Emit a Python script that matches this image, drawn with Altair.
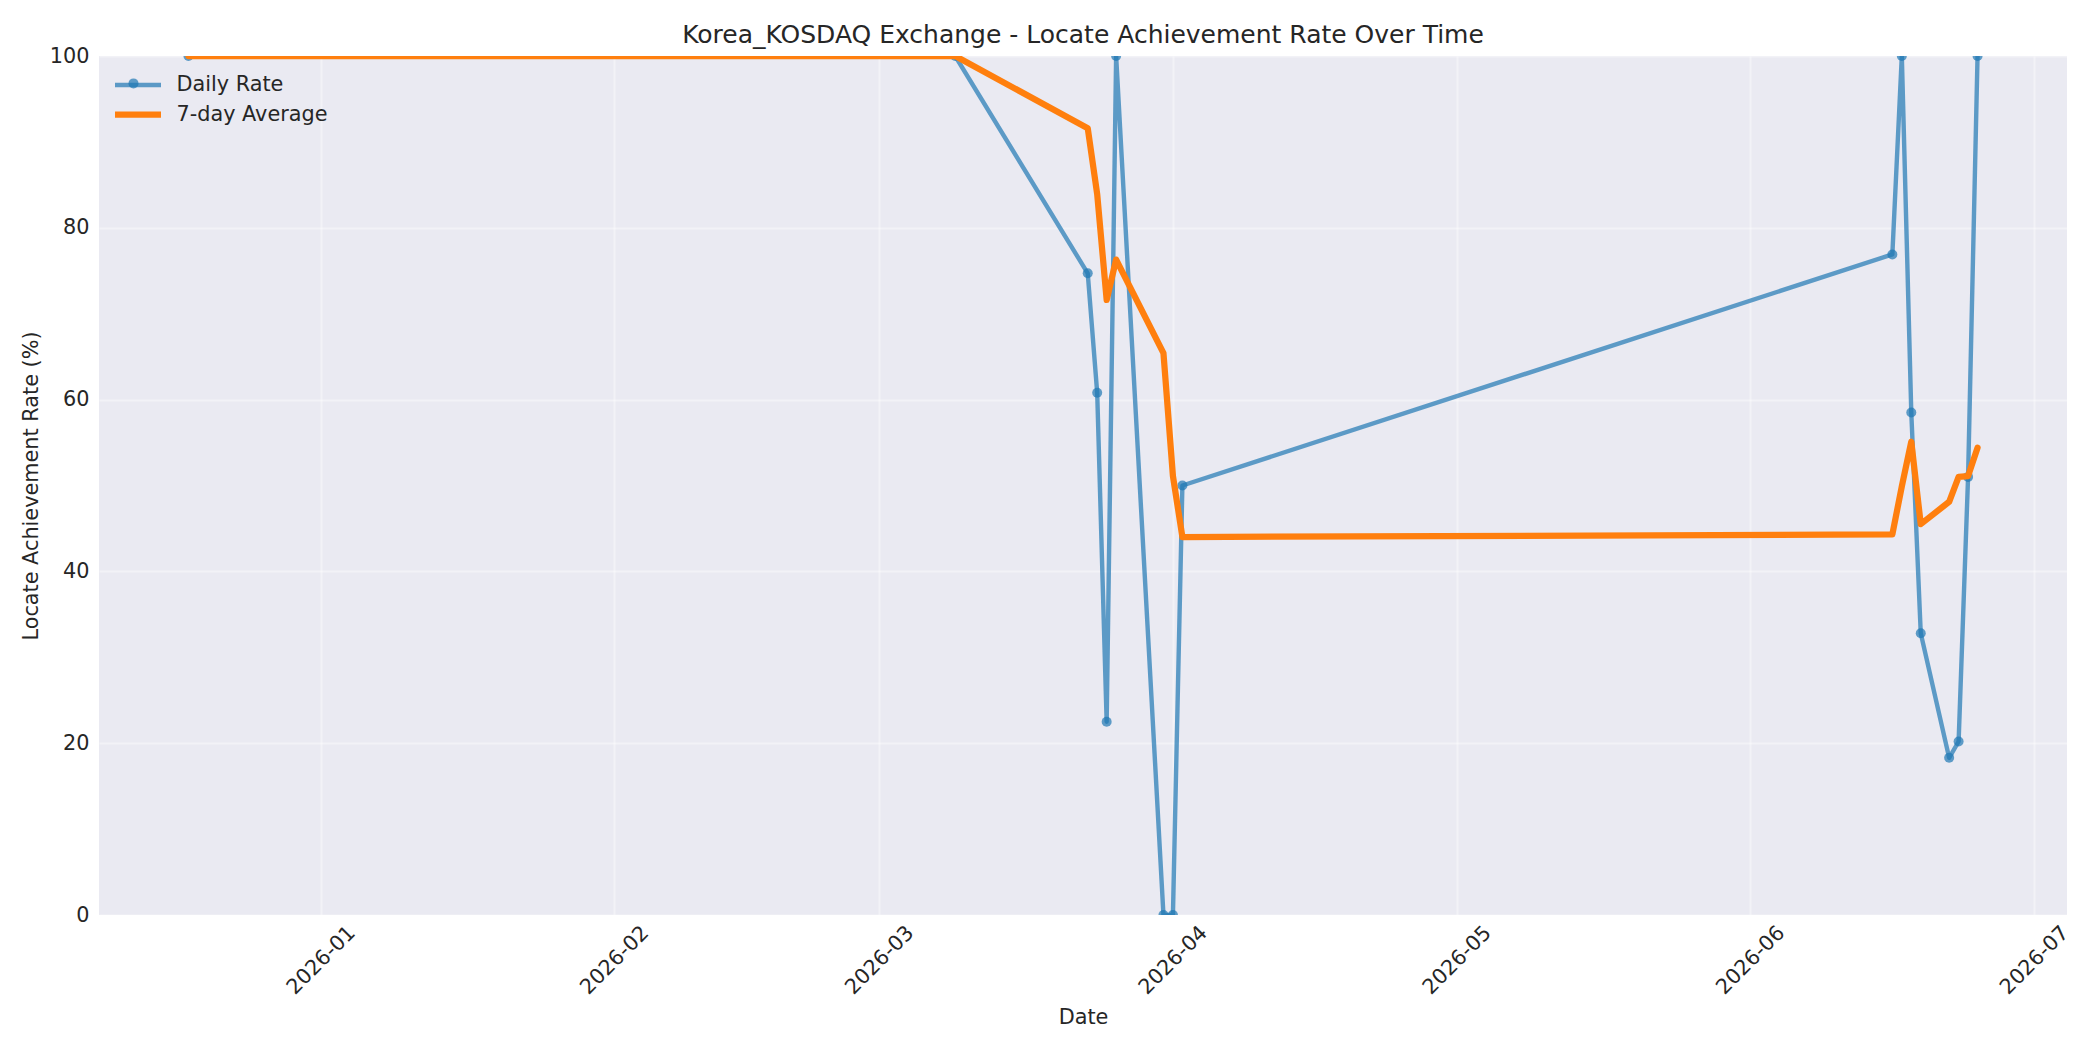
import altair as alt
import pandas as pd

# ---- data ----
dates = ["2025-12-18", "2026-03-09", "2026-03-23", "2026-03-24", "2026-03-25",
         "2026-03-26", "2026-03-31", "2026-04-01", "2026-04-02", "2026-06-16",
         "2026-06-17", "2026-06-18", "2026-06-19", "2026-06-22", "2026-06-23",
         "2026-06-24", "2026-06-25"]
daily_rate = [100, 100, 74.7, 60.8, 22.5, 100, 0, 0, 50.0, 76.9,
              100, 58.5, 32.8, 18.3, 20.2, 51.0, 100]
avg_7day = [100, 100, 91.6, 83.9, 71.6, 76.3, 65.4, 51.1, 44.0, 44.3,
            49.9, 55.1, 45.5, 48.1, 51.0, 51.1, 54.4]

SERIES = ["Daily Rate", "7-day Average"]
COLORS = ["#1f77b4", "#ff7f0e"]
Y_TICKS = [0, 20, 40, 60, 80, 100]

rows = []
for d, v in zip(dates, daily_rate):
    rows.append({"date": d, "value": v, "series": SERIES[0]})
for d, v in zip(dates, avg_7day):
    rows.append({"date": d, "value": v, "series": SERIES[1]})
df = pd.DataFrame(rows)

FONT = "DejaVu Sans"
TXT = "#262626"

x_enc = alt.X(
    "date:T",
    scale=alt.Scale(
        type="utc",
        domain=[alt.DateTime(year=2025, month=12, date=8, hours=13, minutes=12, utc=True),
                alt.DateTime(year=2026, month=7, date=4, hours=10, minutes=48, utc=True)],
        nice=False,
    ),
    axis=alt.Axis(
        title="Date", format="%Y-%m",
        tickCount=alt.TimeIntervalStep(interval="month", step=1),
        labelAngle=315, labelAlign="center", labelBaseline="middle",
        labelPadding=45, ticks=False, tickSize=0, domain=False,
        labelFlush=False, labelOverlap=False,
        titleY=108, titleBaseline="alphabetic", titleX=984, titleAlign="center",
    ),
)
y_enc = alt.Y(
    "value:Q",
    scale=alt.Scale(domain=[0, 100], nice=False),
    axis=alt.Axis(
        title="Locate Achievement Rate (%)", values=Y_TICKS,
        labelPadding=10, ticks=False, tickSize=0, domain=False,
        titleAngle=270, titleX=-68, titleY=429.5, titleAlign="center",
        titleBaseline="middle",
    ),
)

line_legend = alt.Legend(
    title=None, orient="none", legendX=25, legendY=16,
    symbolType="M-2.2,0H2.2", symbolSize=437, labelFontSize=20.8, labelFont=FONT,
    labelColor=TXT, labelOffset=24.5, rowPadding=5.5, padding=0,
)
color_enc = alt.Color("series:N", scale=alt.Scale(domain=SERIES, range=COLORS),
                      legend=line_legend)
sw_enc = alt.StrokeWidth("series:N", scale=alt.Scale(type="ordinal", domain=SERIES, range=[4.4, 6.25]),
                         legend=line_legend)
op_enc = alt.Opacity("series:N", scale=alt.Scale(type="ordinal", domain=SERIES, range=[0.7, 1.0]),
                     legend=line_legend)

base = alt.Chart(df)

daily_line = base.transform_filter(alt.datum.series == SERIES[0]).mark_line(
    strokeCap="round", strokeJoin="round", clip=True
).encode(x=x_enc, y=y_enc, color=color_enc, strokeWidth=sw_enc, opacity=op_enc)

daily_pts = base.transform_filter(alt.datum.series == SERIES[0]).mark_circle(
    size=100, opacity=0.7, clip=True
).encode(
    x=x_enc, y=y_enc,
    fill=alt.Fill("series:N", scale=alt.Scale(domain=[SERIES[0]], range=[COLORS[0]]),
                  legend=alt.Legend(title=None, orient="none", legendX=29.5, legendY=22.4,
                                    symbolType="circle", symbolSize=100, labelOpacity=0,
                                    labelExpr="''", labelFontSize=1,
                                    symbolStrokeWidth=0, padding=0)),
)

avg_line = base.transform_filter(alt.datum.series == SERIES[1]).mark_line(
    strokeCap="round", strokeJoin="round", clip=True
).encode(x=x_enc, y=y_enc, color=color_enc, strokeWidth=sw_enc, opacity=op_enc)

chart = alt.layer(daily_line, daily_pts, avg_line).properties(
    width=1968, height=859,
    background="white",
    title=alt.TitleParams(
        text="Korea_KOSDAQ Exchange - Locate Achievement Rate Over Time",
        fontSize=25, font=FONT, fontWeight="normal", color=TXT,
        anchor="middle", frame="group", offset=13, baseline="alphabetic", dy=36,
    ),
    autosize=alt.AutoSizeParams(type="none"),
    padding={"left": 91, "top": 48, "right": 25, "bottom": 120},
).configure_view(
    fill="#EAEAF2", stroke=None
).configure_axis(
    labelFont=FONT, labelFontSize=20.8, labelColor=TXT,
    titleFont=FONT, titleFontSize=20.8, titleColor=TXT, titleFontWeight="normal",
    gridColor="#ffffff", gridOpacity=0.4, gridWidth=2,
)

chart.save("out.html", embed_options={"renderer": "svg", "actions": False})
